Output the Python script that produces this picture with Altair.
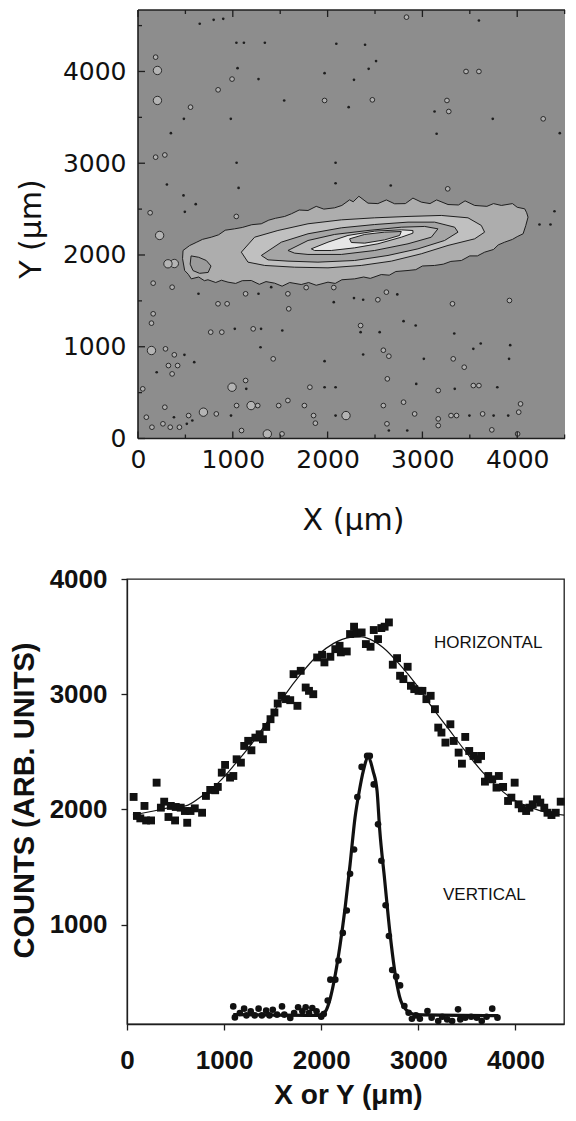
import altair as alt
import pandas as pd

# ---------------- top panel: contour map ----------------
TOP_X_MAX = 4504
TOP_Y_MAX = 4670
top_ticks = [0, 1000, 2000, 3000, 4000]
top_minor = [500, 1500, 2500, 3500, 4500]

# contour levels (outer -> inner), vertices in micrometres
c1_x = [475, 470, 492, 530, 562, 640, 700, 738, 820, 880, 949, 1030, 1100, 1195, 1280, 1350, 1441, 1520, 1600, 1722,
        1800, 1880, 2004, 2080, 2150, 2285, 2380, 2450, 2566, 2650, 2720, 2848, 2930, 3000, 3129, 3220, 3300, 3411, 3500, 3580,
        3657, 3750, 3800, 3868, 3950, 4000, 4062, 4090, 4114, 4100, 4079, 4000, 3950, 3833, 3750, 3680, 3551, 3450, 3380, 3270,
        3150, 3080, 2989, 2900, 2820, 2707, 2620, 2530, 2426, 2330, 2270, 2232, 2150, 2074, 1960, 1880, 1793, 1700, 1620, 1547,
        1450, 1380, 1300, 1200, 1100, 1019, 920, 850, 773, 680, 620, 545]
c1_y = [2049, 1960, 1831, 1790, 1740, 1760, 1720, 1730, 1700, 1725, 1704, 1690, 1720, 1722, 1680, 1710, 1693, 1660, 1700, 1678,
        1700, 1670, 1704, 1690, 1730, 1740, 1760, 1745, 1787, 1780, 1820, 1831, 1840, 1880, 1886, 1900, 1930, 1940, 1990, 1990,
        2031, 2060, 2110, 2140, 2170, 2200, 2231, 2320, 2412, 2460, 2503, 2520, 2560, 2540, 2560, 2530, 2540, 2590, 2545, 2550,
        2600, 2560, 2576, 2620, 2560, 2558, 2600, 2560, 2565, 2640, 2580, 2601, 2540, 2514, 2500, 2530, 2485, 2490, 2450, 2420,
        2400, 2380, 2340, 2330, 2300, 2285, 2270, 2220, 2194, 2170, 2140, 2103]
c1b_x = [560, 640, 720, 770, 740, 650, 580, 550]
c1b_y = [1990, 1975, 1940, 1880, 1810, 1800, 1830, 1900]
c2_x = [1090, 1230, 1476, 1793, 2145, 2496, 2848, 3199, 3481, 3621, 3656, 3551, 3270, 2988, 2672, 2355, 2004, 1652, 1336, 1160]
c2_y = [2031, 2194, 2267, 2340, 2383, 2405, 2420, 2431, 2405, 2322, 2249, 2176, 2104, 2013, 1933, 1886, 1860, 1867, 1886, 1922]
c3_x = [1301, 1512, 1793, 2145, 2496, 2848, 3129, 3340, 3375, 3234, 2953, 2637, 2285, 1898, 1582, 1371]
c3_y = [1995, 2140, 2231, 2296, 2332, 2358, 2358, 2303, 2249, 2158, 2067, 1995, 1940, 1922, 1933, 1947]
c4_x = [1582, 1793, 2074, 2426, 2777, 3024, 3164, 3094, 2848, 2496, 2145, 1793, 1652]
c4_y = [2049, 2158, 2224, 2267, 2303, 2311, 2285, 2194, 2122, 2049, 2006, 2006, 2020]
c5_x = [1828, 2004, 2215, 2496, 2777, 2900, 2900, 2777, 2531, 2285, 2039, 1863]
c5_y = [2067, 2140, 2213, 2260, 2274, 2267, 2238, 2194, 2122, 2078, 2049, 2049]
c6_x = [2232, 2391, 2602, 2777, 2760, 2602, 2391, 2250]
c6_y = [2176, 2224, 2249, 2256, 2213, 2165, 2129, 2136]

# isolated noise islands
dot_x = [798, 899, 3596, 1038, 1117, 1338, 2092, 2395, 651, 1050, 1271, 2278, 2511, 2433, 1968, 1542, 2222, 3128, 484, 979,
         3742, 3150, 4449, 347, 1040, 2084, 2666, 2084, 1061, 480, 305, 609, 494, 4393, 4351, 4235, 1271, 1405, 2065, 2278,
         2375, 2735, 638, 1021, 1298, 1522, 2348, 2549, 2801, 2929, 3336, 3615, 3926, 490, 593, 197, 1292, 1968, 2375, 3015,
         3537, 3914, 1142, 1968, 2084, 2935, 3341, 3790, 379, 981, 2084, 3496, 3751, 3905, 515, 573, 2840, 2646]
dot_y = [4563, 4574, 4556, 4313, 4313, 4313, 4302, 4291, 4520, 4036, 3917, 3909, 4113, 4029, 3982, 3684, 3611, 3564, 3484, 3484,
         3484, 3321, 3328, 3328, 3005, 3005, 2757, 2782, 2731, 2649, 2768, 2554, 2470, 2477, 2332, 2332, 1577, 1649, 1486, 1530,
         1512, 1570, 1577, 1195, 1195, 1177, 1159, 1159, 1279, 1231, 1144, 1035, 1017, 912, 832, 722, 995, 843, 915, 868,
         977, 868, 541, 559, 559, 595, 541, 559, 232, 250, 250, 250, 250, 250, 160, 196, 87, 87]
ring_x = [2832, 186, 992, 845, 3460, 3596, 1968, 2472, 554, 3259, 3278, 4274, 186, 283, 3267, 128, 1037, 1135, 1581, 1774,
          2065, 1590, 2530, 2620, 3317, 3918, 844, 940, 360, 160, 160, 142, 767, 884, 1215, 2348, 290, 383, 321, 418,
          360, 1426, 2646, 2588, 3325, 3441, 1135, 1813, 2630, 3167, 3537, 3596, 50, 88, 283, 534, 826, 1040, 1263, 1484,
          1581, 1755, 1852, 2588, 2801, 2918, 3167, 3302, 3360, 3635, 4035, 4016, 147, 263, 340, 437, 1092, 1519, 1871, 3167,
          3732, 4004, 2626]
ring_y = [4592, 4156, 3917, 3800, 4000, 4000, 3684, 3691, 3611, 3684, 3564, 3484, 3066, 3090, 2721, 2460, 2420, 1577, 1577, 1645,
          1645, 1413, 1512, 1595, 1468, 1504, 1468, 1468, 1649, 1693, 1359, 1257, 1159, 1159, 1195, 1231, 977, 912, 795, 795,
          704, 868, 897, 962, 868, 777, 632, 559, 650, 523, 577, 577, 541, 232, 341, 250, 268, 359, 359, 359,
          414, 359, 250, 359, 396, 268, 214, 250, 250, 268, 377, 287, 123, 160, 123, 123, 87, 50, 167, 141,
          94, 50, 160]
big_x = [205, 205, 142, 992, 690, 1193, 2194, 1364, 383, 228, 316]
big_y = [4011, 3684, 959, 559, 287, 359, 250, 50, 1907, 2213, 1904]

# ---------------- bottom panel: profiles ----------------
h_x = [68, 102, 137, 180, 197, 248, 305, 349, 383, 427, 451, 495, 502, 553, 596, 620, 654, 698, 773, 813,
       857, 908, 935, 976, 1010, 1061, 1095, 1129, 1173, 1207, 1248, 1281, 1322, 1366, 1400, 1434, 1478, 1518, 1552, 1593,
       1637, 1681, 1715, 1755, 1789, 1840, 1874, 1918, 1958, 2009, 2033, 2094, 2145, 2189, 2202, 2263, 2297, 2338, 2365, 2416,
       2460, 2508, 2541, 2585, 2619, 2653, 2697, 2737, 2781, 2812, 2846, 2890, 2924, 2958, 3002, 3042, 3083, 3127, 3171, 3205,
       3238, 3279, 3330, 3364, 3415, 3449, 3483, 3524, 3568, 3612, 3646, 3686, 3720, 3761, 3805, 3829, 3873, 3924, 3958, 3992,
       4032, 4066, 4110, 4144, 4178, 4222, 4256, 4297, 4330, 4371, 4415, 4466]
h_y = [2108, 1943, 1922, 2030, 1904, 1904, 2232, 2015, 2067, 1934, 2030, 1904, 2021, 2015, 1986, 1884, 1986, 2009, 1971, 2117,
       2169, 2166, 2195, 2319, 2386, 2276, 2290, 2435, 2406, 2551, 2595, 2513, 2623, 2652, 2609, 2716, 2783, 2841, 2919, 2986,
       2957, 2948, 3174, 2899, 3203, 3058, 3029, 3000, 3319, 3342, 3276, 3325, 3391, 3420, 3363, 3371, 3522, 3586, 3527, 3536,
       3435, 3412, 3557, 3478, 3574, 3586, 3623, 3256, 3313, 3160, 3131, 3238, 3073, 3044, 3029, 3029, 2957, 2986, 2870, 2710,
       2667, 2580, 2739, 2594, 2493, 2397, 2629, 2507, 2464, 2435, 2464, 2241, 2290, 2261, 2189, 2290, 2195, 2073, 2102, 2232,
       2044, 2009, 1986, 2015, 2044, 2088, 2059, 2015, 1971, 1951, 1971, 2067]
hf_x = [61, 274, 443, 603, 773, 942, 1112, 1281, 1451, 1620, 1789, 1958, 2128, 2297, 2399, 2500, 2636, 2805, 2975, 3144,
        3313, 3483, 3652, 3822, 3992, 4161, 4330, 4500]
hf_y = [1951, 1986, 2015, 2030, 2117, 2232, 2392, 2566, 2768, 2986, 3174, 3334, 3441, 3493, 3499, 3478, 3406, 3261, 3087, 2884,
        2696, 2507, 2333, 2189, 2079, 2015, 1971, 1951]
v_x = [1094, 1111, 1162, 1206, 1230, 1274, 1315, 1355, 1389, 1433, 1467, 1501, 1545, 1596, 1620, 1681, 1721, 1762, 1806, 1840,
       1874, 1908, 1952, 2000, 2026, 2067, 2094, 2145, 2178, 2222, 2263, 2297, 2338, 2372, 2416, 2473, 2500, 2541, 2585, 2619,
       2663, 2697, 2731, 2772, 2812, 2856, 2900, 2934, 2975, 3016, 3094, 3137, 3205, 3246, 3297, 3348, 3409, 3432, 3483, 3544,
       3602, 3653, 3703, 3761, 3815]
v_y = [290, 194, 232, 270, 212, 247, 212, 270, 212, 253, 212, 261, 218, 290, 218, 189, 232, 282, 247, 282,
       232, 276, 247, 200, 224, 340, 522, 522, 688, 928, 1122, 1441, 1652, 2108, 2369, 2464, 2464, 2217, 1870, 1554,
       1168, 901, 606, 548, 472, 293, 235, 183, 212, 183, 250, 192, 163, 200, 177, 163, 264, 177, 192, 200,
       192, 163, 200, 270, 192]
vf_x = [1094, 1959, 2043, 2094, 2145, 2195, 2246, 2297, 2348, 2392, 2433, 2483, 2534, 2575, 2602, 2653, 2704, 2755, 2806, 2873,
        2975, 3822]
vf_y = [218, 212, 247, 363, 566, 827, 1146, 1522, 1928, 2160, 2333, 2450, 2333, 2160, 1826, 1391, 957, 609, 377, 261,
        218, 209]
labels_text = ["HORIZONTAL", "VERTICAL"]
labels_x = [3720, 3680]
labels_y = [3441, 1258]
BOT_X_MAX = 4500
BOT_Y_MIN = 137
BOT_Y_MAX = 4000
bot_xticks = [0, 1000, 2000, 3000, 4000]
bot_yticks = [1000, 2000, 3000, 4000]

# ---------------- build ----------------
TOP_W, TOP_H = 438, 428.5
TOP_R0 = 11
BOT_W, BOT_H = 437, 445
INK = "#1e1e1e"

def poly(xs, ys):
    return pd.DataFrame({"x": xs, "y": ys, "i": list(range(len(xs)))})

sx_t = alt.Scale(domain=[0, TOP_X_MAX], range=[TOP_R0, TOP_W], nice=False, zero=False)
sy_t = alt.Scale(domain=[0, TOP_Y_MAX], nice=False, zero=False)

x_axis_t = alt.Axis(values=top_ticks, format="d", domain=False, ticks=False, tickSize=0, grid=False,
                    labelFlush=False, labelFont="DejaVu Sans", labelFontSize=25, labelColor="#111",
                    labelPadding=9,
                    title="X (μm)", titleFont="DejaVu Sans", titleFontSize=30, titleFontWeight="normal",
                    titleColor="#111", titleX=226, titleY=82, titleBaseline="middle", titleAlign="center")
y_axis_t = alt.Axis(values=top_ticks, format="d", domain=False, ticks=False, tickSize=0, grid=False,
                    labelFlush=False, labelFont="DejaVu Sans", labelFontSize=25, labelColor="#111",
                    labelPadding=1,
                    title="Y (μm)", titleFont="DejaVu Sans", titleFontSize=30, titleFontWeight="normal",
                    titleColor="#111", titleX=-96, titleY=218.5, titleAngle=270, titleBaseline="middle",
                    titleAlign="center")

def XT(f):
    return alt.X(f, scale=sx_t, axis=x_axis_t)

def YT(f):
    return alt.Y(f, scale=sy_t, axis=y_axis_t)

bg = alt.Chart(pd.DataFrame({"x0": [0], "x1": [TOP_X_MAX], "y0": [0], "y1": [TOP_Y_MAX]})).mark_rect(
    color="#8d8d8d").encode(x=XT("x0:Q"), x2="x1:Q", y=YT("y0:Q"), y2="y1:Q")

fills = ["#adadad", "#9b9b9b", "#c0c0c0", "#a5a5a5", "#b9b9b9", "#e6e6e6", "#a8a8a8"]
contours = [(c1_x, c1_y), (c1b_x, c1b_y), (c2_x, c2_y), (c3_x, c3_y), (c4_x, c4_y), (c5_x, c5_y), (c6_x, c6_y)]
layers_top = [bg]
for (cx, cy), col in zip(contours, fills):
    layers_top.append(
        alt.Chart(poly(cx, cy)).mark_line(interpolate="linear-closed", fill=col, stroke=INK, strokeWidth=1.0,
                                          clip=True)
        .encode(x=XT("x:Q"), y=YT("y:Q"), order="i:Q"))

layers_top.append(alt.Chart(pd.DataFrame({"x": ring_x, "y": ring_y})).mark_circle(
    size=22, fill="#b0b0b0", stroke=INK, strokeWidth=0.9, opacity=1, clip=True).encode(x=XT("x:Q"), y=YT("y:Q")))
layers_top.append(alt.Chart(pd.DataFrame({"x": big_x, "y": big_y})).mark_circle(
    size=70, fill="#b4b4b4", stroke=INK, strokeWidth=0.9, opacity=1, clip=True).encode(x=XT("x:Q"), y=YT("y:Q")))
layers_top.append(alt.Chart(pd.DataFrame({"x": dot_x, "y": dot_y})).mark_circle(
    size=7, color=INK, opacity=1, clip=True).encode(x=XT("x:Q"), y=YT("y:Q")))

frame = pd.DataFrame({"x0": [0, 0, 0], "x1": [0, TOP_X_MAX, TOP_X_MAX],
                      "y0": [0, 0, TOP_Y_MAX], "y1": [TOP_Y_MAX, 0, TOP_Y_MAX]})
layers_top.append(alt.Chart(frame).mark_rule(color=INK, strokeWidth=1.6).encode(
    x=XT("x0:Q"), x2="x1:Q", y=YT("y0:Q"), y2="y1:Q"))

major = pd.DataFrame({"v": top_ticks})
minor = pd.DataFrame({"v": top_minor})
for df, ln in [(major, 7), (minor, 4)]:
    layers_top.append(alt.Chart(df).mark_rule(color=INK, strokeWidth=1.3).encode(
        y=YT("v:Q"), x=alt.value(TOP_R0), x2=alt.value(TOP_R0 + ln)))
    layers_top.append(alt.Chart(df).mark_rule(color=INK, strokeWidth=1.3).encode(
        x=XT("v:Q"), y=alt.value(TOP_H), y2=alt.value(TOP_H - ln)))
    layers_top.append(alt.Chart(df).mark_rule(color=INK, strokeWidth=1.3).encode(
        x=XT("v:Q"), y=alt.value(0), y2=alt.value(ln)))

top = alt.layer(*layers_top).properties(width=TOP_W, height=TOP_H)

# bottom
sx_b = alt.Scale(domain=[0, BOT_X_MAX], nice=False, zero=False)
sy_b = alt.Scale(domain=[BOT_Y_MIN, BOT_Y_MAX], nice=False, zero=False)
x_axis_b = alt.Axis(values=bot_xticks, format="d", grid=False, domainColor=INK, domainWidth=1.3, tickColor=INK,
                    tickSize=6, tickWidth=1.3, labelFlush=False, labelFont="Liberation Sans",
                    labelFontWeight="bold", labelFontSize=26, labelColor="#111", labelPadding=17,
                    title="X or Y (μm)", titleFont="Liberation Sans", titleFontWeight="bold",
                    titleFontSize=28, titleColor="#111", titleX=221, titleY=71,
                    titleBaseline="middle", titleAlign="center")
y_axis_b = alt.Axis(values=bot_yticks, format="d", grid=False, domainColor=INK, domainWidth=1.3, tickColor=INK,
                    tickSize=6, tickWidth=1.3, labelFlush=False, labelFont="Liberation Sans",
                    labelFontWeight="bold", labelFontSize=26, labelColor="#111", labelPadding=14,
                    title="COUNTS (ARB. UNITS)", titleFont="Liberation Sans", titleFontWeight="bold",
                    titleFontSize=29, titleColor="#111", titleX=-103, titleY=221, titleAngle=270,
                    titleBaseline="middle", titleAlign="center")

def XB(f):
    return alt.X(f, scale=sx_b, axis=x_axis_b)

def YB(f):
    return alt.Y(f, scale=sy_b, axis=y_axis_b)

hpts = alt.Chart(pd.DataFrame({"x": h_x, "y": h_y})).mark_square(size=62, color="#111", opacity=1).encode(
    x=XB("x:Q"), y=YB("y:Q"))
hfit = alt.Chart(pd.DataFrame({"x": hf_x, "y": hf_y})).mark_line(
    color="#111", strokeWidth=1.2, interpolate="monotone").encode(x=XB("x:Q"), y=YB("y:Q"))
vpts = alt.Chart(pd.DataFrame({"x": v_x, "y": v_y})).mark_circle(size=44, color="#111", opacity=1).encode(
    x=XB("x:Q"), y=YB("y:Q"))
vfit = alt.Chart(pd.DataFrame({"x": vf_x, "y": vf_y})).mark_line(
    color="#111", strokeWidth=3.2, interpolate="monotone").encode(x=XB("x:Q"), y=YB("y:Q"))
txt = alt.Chart(pd.DataFrame({"x": labels_x, "y": labels_y, "t": labels_text})).mark_text(
    font="Liberation Sans", fontSize=17, color="#111", align="center", baseline="middle").encode(
    x=XB("x:Q"), y=YB("y:Q"), text="t:N")

bottom = alt.layer(hfit, vfit, hpts, vpts, txt).properties(
    width=BOT_W, height=BOT_H, view=alt.ViewBackground(stroke=INK, strokeWidth=1.3))

chart = alt.vconcat(top, bottom, spacing=29).configure(
    padding={"left": 1, "top": 1, "right": 0, "bottom": 0}, background="white"
).configure_view(stroke=None)

chart.save("out.html", embed_options={"renderer": "svg", "actions": False})
